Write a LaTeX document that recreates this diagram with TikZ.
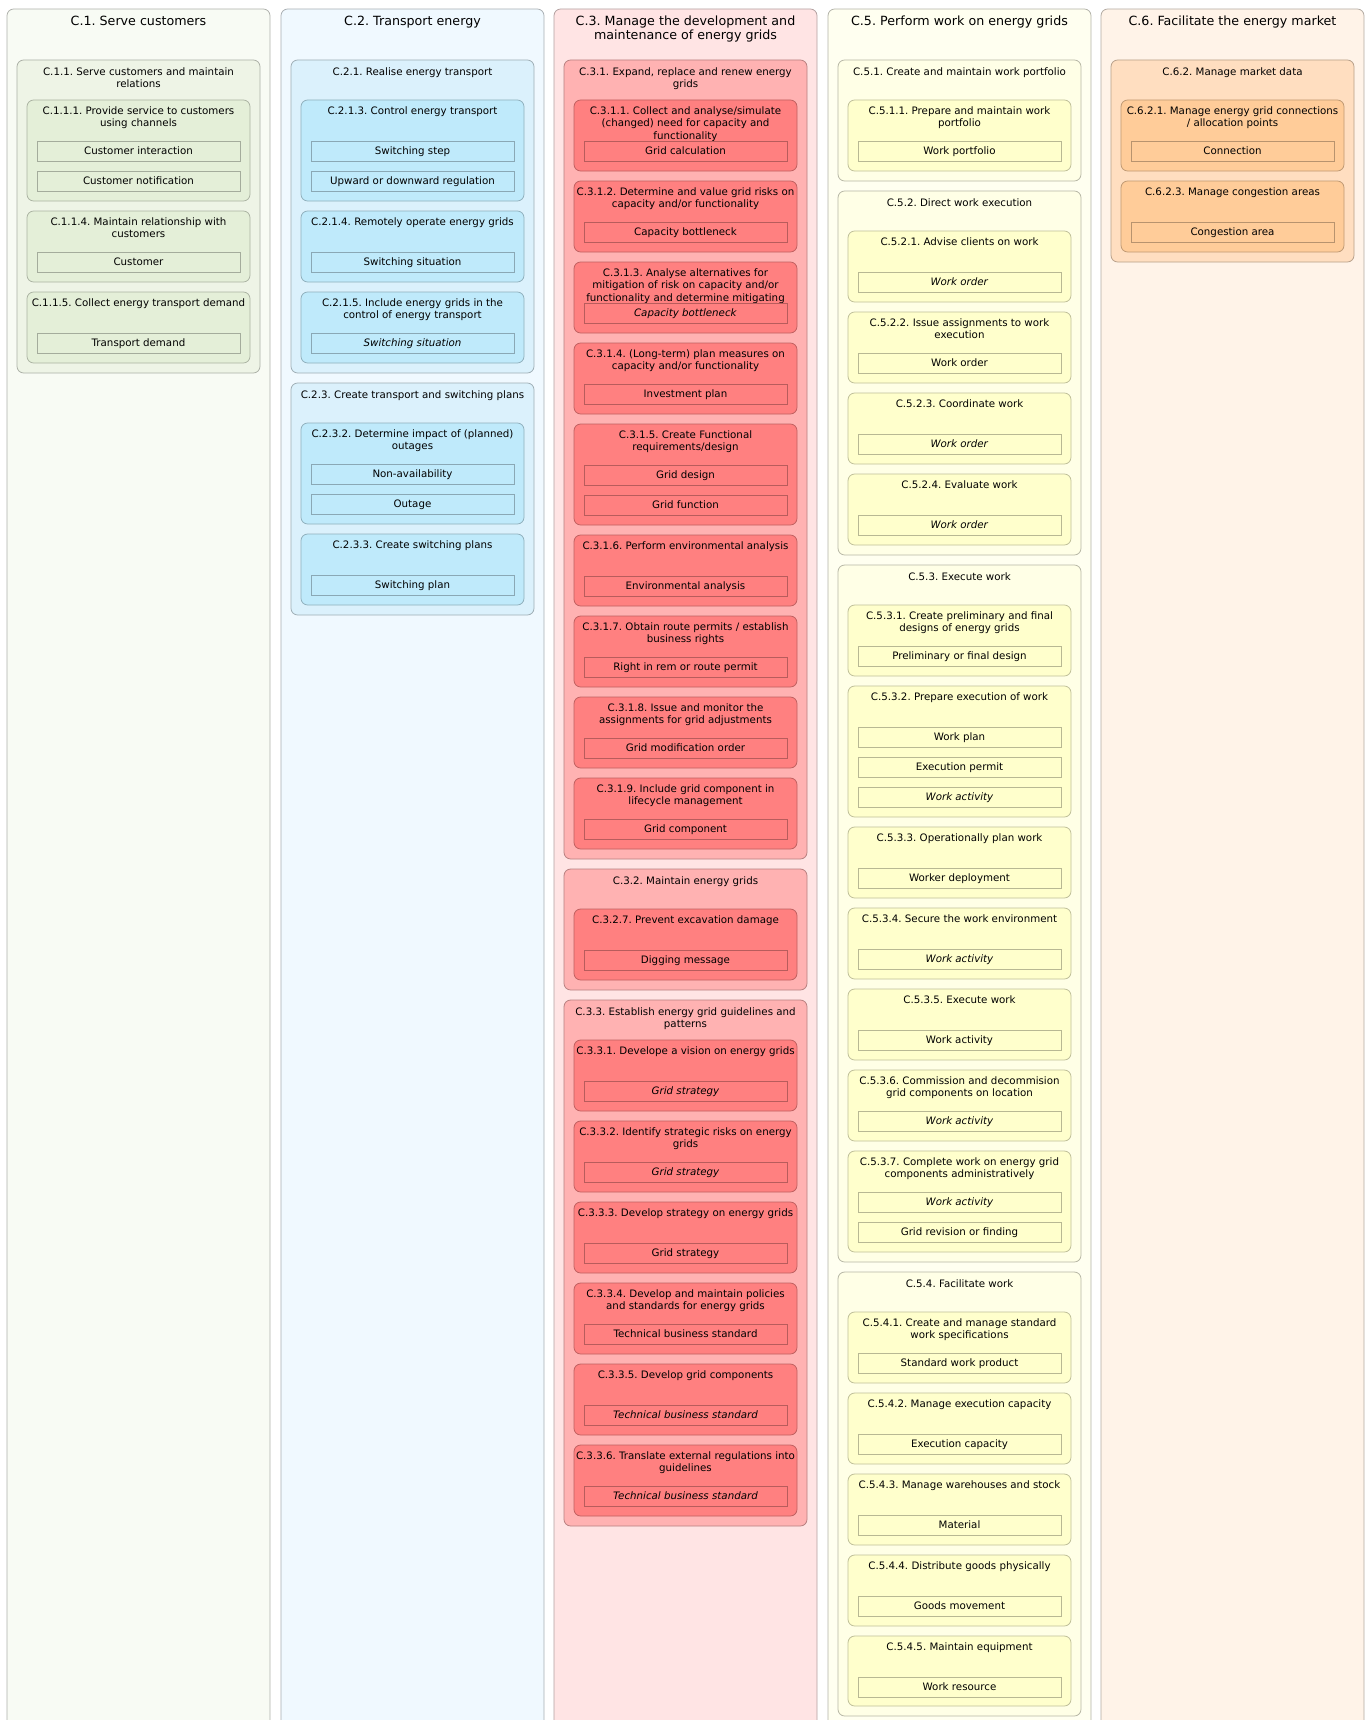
\documentclass[tikz,border=0pt]{standalone}
\usepackage{fontspec}
\setmainfont{DejaVu Sans}
\usepackage{tikz}
\frenchspacing
\definecolor{GreenCol}{RGB}{248,251,244}
\definecolor{GreenGrp}{RGB}{238,244,230}
\definecolor{GreenProc}{RGB}{228,239,216}
\definecolor{BlueCol}{RGB}{240,249,255}
\definecolor{BlueGrp}{RGB}{219,241,252}
\definecolor{BlueProc}{RGB}{191,234,251}
\definecolor{RedCol}{RGB}{255,228,228}
\definecolor{RedGrp}{RGB}{255,178,178}
\definecolor{RedProc}{RGB}{255,128,128}
\definecolor{YellowCol}{RGB}{255,255,240}
\definecolor{YellowGrp}{RGB}{255,255,230}
\definecolor{YellowProc}{RGB}{255,255,204}
\definecolor{OrangeCol}{RGB}{255,243,232}
\definecolor{OrangeGrp}{RGB}{255,222,192}
\definecolor{OrangeProc}{RGB}{255,204,153}
\begin{document}
\begin{tikzpicture}[x=0.75pt,y=-0.75pt,
  lane/.style={draw=#1!70!black,fill=#1,rounded corners=5pt,line width=0.6pt},
  grp/.style={draw=#1!72!black,fill=#1,rounded corners=5pt,line width=0.6pt},
  proc/.style={draw=#1!75!black,fill=#1,rounded corners=5pt,line width=0.6pt},
  obj/.style={draw=#1!72!black,fill=#1,line width=0.6pt,minimum width=152.25pt,
              minimum height=15pt,inner sep=0pt,text height=5.6pt,text depth=0.4pt,
              font=\fontsize{7.7}{9.5}\selectfont},
  lanettl/.style={anchor=north,align=center,inner sep=0pt,font=\fontsize{9.5}{10.7}\selectfont},
  ttl/.style={anchor=north,align=center,inner sep=0pt,font=\fontsize{7.7}{9.5}\selectfont},
]
\useasboundingbox (0,0) rectangle (1367,1720);
\clip (0,0) rectangle (1367,1720);
% C.1
\draw[lane=GreenCol] (7,9) rectangle (270,1740);
\node[lanettl] (tc1) at (138.5,15) {\strut C.1. Serve customers};
\draw[grp=GreenGrp] (17,60) rectangle (260,373);
\node[ttl] (tg11) at (138.5,66) {\strut C.1.1. Serve customers and maintain\\relations};
\draw[proc=GreenProc] (27,100) rectangle (250,201);
\node[ttl] (tp111) at (138.5,105) {\strut C.1.1.1. Provide service to customers\\using channels};
\node[obj=GreenProc] (o111a) at (138.5,151) {Customer interaction};
\node[obj=GreenProc] (o111b) at (138.5,181) {Customer notification};
\draw[proc=GreenProc] (27,211) rectangle (250,282);
\node[ttl] (tp114) at (138.5,216) {\strut C.1.1.4. Maintain relationship with\\customers};
\node[obj=GreenProc] (o114) at (138.5,262) {Customer};
\draw[proc=GreenProc] (27,292) rectangle (250,363);
\node[ttl] (tp115) at (138.5,297) {\strut C.1.1.5. Collect energy transport demand};
\node[obj=GreenProc] (o115) at (138.5,343) {Transport demand};
% C.2
\draw[lane=BlueCol] (281,9) rectangle (544,1740);
\node[lanettl] (tc2) at (412.5,15) {\strut C.2. Transport energy};
\draw[grp=BlueGrp] (291,60) rectangle (534,373);
\node[ttl] (tg21) at (412.5,66) {\strut C.2.1. Realise energy transport};
\draw[proc=BlueProc] (301,100) rectangle (524,201);
\node[ttl] (tp213) at (412.5,105) {\strut C.2.1.3. Control energy transport};
\node[obj=BlueProc] (o213a) at (412.5,151) {Switching step};
\node[obj=BlueProc] (o213b) at (412.5,181) {Upward or downward regulation};
\draw[proc=BlueProc] (301,211) rectangle (524,282);
\node[ttl] (tp214) at (412.5,216) {\strut C.2.1.4. Remotely operate energy grids};
\node[obj=BlueProc] (o214) at (412.5,262) {Switching situation};
\draw[proc=BlueProc] (301,292) rectangle (524,363);
\node[ttl] (tp215) at (412.5,297) {\strut C.2.1.5. Include energy grids in the\\control of energy transport};
\node[obj=BlueProc] (o215) at (412.5,343) {\textit{Switching situation}};
\draw[grp=BlueGrp] (291,383) rectangle (534,615);
\node[ttl] (tg23) at (412.5,389) {\strut C.2.3. Create transport and switching plans};
\draw[proc=BlueProc] (301,423) rectangle (524,524);
\node[ttl] (tp232) at (412.5,428) {\strut C.2.3.2. Determine impact of (planned)\\outages};
\node[obj=BlueProc] (o232a) at (412.5,474) {Non-availability};
\node[obj=BlueProc] (o232b) at (412.5,504) {Outage};
\draw[proc=BlueProc] (301,534) rectangle (524,605);
\node[ttl] (tp233) at (412.5,539) {\strut C.2.3.3. Create switching plans};
\node[obj=BlueProc] (o233) at (412.5,585) {Switching plan};
% C.3
\draw[lane=RedCol] (554,9) rectangle (817,1740);
\node[lanettl] (tc3) at (685.5,15) {\strut C.3. Manage the development and\\maintenance of energy grids};
\draw[grp=RedGrp] (564,60) rectangle (807,859);
\node[ttl] (tg31) at (685.5,66) {\strut C.3.1. Expand, replace and renew energy\\grids};
\draw[proc=RedProc] (574,100) rectangle (797,171);
\node[ttl] (tp311) at (685.5,105) {\strut C.3.1.1. Collect and analyse/simulate\\(changed) need for capacity and\\functionality};
\node[obj=RedProc] (o311) at (685.5,151) {Grid calculation};
\draw[proc=RedProc] (574,181) rectangle (797,252);
\node[ttl] (tp312) at (685.5,186) {\strut C.3.1.2. Determine and value grid risks on\\capacity and/or functionality};
\node[obj=RedProc] (o312) at (685.5,232) {Capacity bottleneck};
\draw[proc=RedProc] (574,262) rectangle (797,333);
\node[ttl] (tp313) at (685.5,267) {\strut C.3.1.3. Analyse alternatives for\\mitigation of risk on capacity and/or\\functionality and determine mitigating};
\node[obj=RedProc] (o313) at (685.5,313) {\textit{Capacity bottleneck}};
\draw[proc=RedProc] (574,343) rectangle (797,414);
\node[ttl] (tp314) at (685.5,348) {\strut C.3.1.4. (Long-term) plan measures on\\capacity and/or functionality};
\node[obj=RedProc] (o314) at (685.5,394) {Investment plan};
\draw[proc=RedProc] (574,424) rectangle (797,525);
\node[ttl] (tp315) at (685.5,429) {\strut C.3.1.5. Create Functional\\requirements/design};
\node[obj=RedProc] (o315a) at (685.5,475) {Grid design};
\node[obj=RedProc] (o315b) at (685.5,505) {Grid function};
\draw[proc=RedProc] (574,535) rectangle (797,606);
\node[ttl] (tp316) at (685.5,540) {\strut C.3.1.6. Perform environmental analysis};
\node[obj=RedProc] (o316) at (685.5,586) {Environmental analysis};
\draw[proc=RedProc] (574,616) rectangle (797,687);
\node[ttl] (tp317) at (685.5,621) {\strut C.3.1.7. Obtain route permits / establish\\business rights};
\node[obj=RedProc] (o317) at (685.5,667) {Right in rem or route permit};
\draw[proc=RedProc] (574,697) rectangle (797,768);
\node[ttl] (tp318) at (685.5,702) {\strut C.3.1.8. Issue and monitor the\\assignments for grid adjustments};
\node[obj=RedProc] (o318) at (685.5,748) {Grid modification order};
\draw[proc=RedProc] (574,778) rectangle (797,849);
\node[ttl] (tp319) at (685.5,783) {\strut C.3.1.9. Include grid component in\\lifecycle management};
\node[obj=RedProc] (o319) at (685.5,829) {Grid component};
\draw[grp=RedGrp] (564,869) rectangle (807,990);
\node[ttl] (tg32) at (685.5,875) {\strut C.3.2. Maintain energy grids};
\draw[proc=RedProc] (574,909) rectangle (797,980);
\node[ttl] (tp327) at (685.5,914) {\strut C.3.2.7. Prevent excavation damage};
\node[obj=RedProc] (o327) at (685.5,960) {Digging message};
\draw[grp=RedGrp] (564,1000) rectangle (807,1526);
\node[ttl] (tg33) at (685.5,1006) {\strut C.3.3. Establish energy grid guidelines and\\patterns};
\draw[proc=RedProc] (574,1040) rectangle (797,1111);
\node[ttl] (tp331) at (685.5,1045) {\strut C.3.3.1. Develope a vision on energy grids};
\node[obj=RedProc] (o331) at (685.5,1091) {\textit{Grid strategy}};
\draw[proc=RedProc] (574,1121) rectangle (797,1192);
\node[ttl] (tp332) at (685.5,1126) {\strut C.3.3.2. Identify strategic risks on energy\\grids};
\node[obj=RedProc] (o332) at (685.5,1172) {\textit{Grid strategy}};
\draw[proc=RedProc] (574,1202) rectangle (797,1273);
\node[ttl] (tp333) at (685.5,1207) {\strut C.3.3.3. Develop strategy on energy grids};
\node[obj=RedProc] (o333) at (685.5,1253) {Grid strategy};
\draw[proc=RedProc] (574,1283) rectangle (797,1354);
\node[ttl] (tp334) at (685.5,1288) {\strut C.3.3.4. Develop and maintain policies\\and standards for energy grids};
\node[obj=RedProc] (o334) at (685.5,1334) {Technical business standard};
\draw[proc=RedProc] (574,1364) rectangle (797,1435);
\node[ttl] (tp335) at (685.5,1369) {\strut C.3.3.5. Develop grid components};
\node[obj=RedProc] (o335) at (685.5,1415) {\textit{Technical business standard}};
\draw[proc=RedProc] (574,1445) rectangle (797,1516);
\node[ttl] (tp336) at (685.5,1450) {\strut C.3.3.6. Translate external regulations into\\guidelines};
\node[obj=RedProc] (o336) at (685.5,1496) {\textit{Technical business standard}};
% C.5
\draw[lane=YellowCol] (828,9) rectangle (1091,1740);
\node[lanettl] (tc5) at (959.5,15) {\strut C.5. Perform work on energy grids};
\draw[grp=YellowGrp] (838,60) rectangle (1081,181);
\node[ttl] (tg51) at (959.5,66) {\strut C.5.1. Create and maintain work portfolio};
\draw[proc=YellowProc] (848,100) rectangle (1071,171);
\node[ttl] (tp511) at (959.5,105) {\strut C.5.1.1. Prepare and maintain work\\portfolio};
\node[obj=YellowProc] (o511) at (959.5,151) {Work portfolio};
\draw[grp=YellowGrp] (838,191) rectangle (1081,555);
\node[ttl] (tg52) at (959.5,197) {\strut C.5.2. Direct work execution};
\draw[proc=YellowProc] (848,231) rectangle (1071,302);
\node[ttl] (tp521) at (959.5,236) {\strut C.5.2.1. Advise clients on work};
\node[obj=YellowProc] (o521) at (959.5,282) {\textit{Work order}};
\draw[proc=YellowProc] (848,312) rectangle (1071,383);
\node[ttl] (tp522) at (959.5,317) {\strut C.5.2.2. Issue assignments to work\\execution};
\node[obj=YellowProc] (o522) at (959.5,363) {Work order};
\draw[proc=YellowProc] (848,393) rectangle (1071,464);
\node[ttl] (tp523) at (959.5,398) {\strut C.5.2.3. Coordinate work};
\node[obj=YellowProc] (o523) at (959.5,444) {\textit{Work order}};
\draw[proc=YellowProc] (848,474) rectangle (1071,545);
\node[ttl] (tp524) at (959.5,479) {\strut C.5.2.4. Evaluate work};
\node[obj=YellowProc] (o524) at (959.5,525) {\textit{Work order}};
\draw[grp=YellowGrp] (838,565) rectangle (1081,1262);
\node[ttl] (tg53) at (959.5,571) {\strut C.5.3. Execute work};
\draw[proc=YellowProc] (848,605) rectangle (1071,676);
\node[ttl] (tp531) at (959.5,610) {\strut C.5.3.1. Create preliminary and final\\designs of energy grids};
\node[obj=YellowProc] (o531) at (959.5,656) {Preliminary or final design};
\draw[proc=YellowProc] (848,686) rectangle (1071,817);
\node[ttl] (tp532) at (959.5,691) {\strut C.5.3.2. Prepare execution of work};
\node[obj=YellowProc] (o532a) at (959.5,737) {Work plan};
\node[obj=YellowProc] (o532b) at (959.5,767) {Execution permit};
\node[obj=YellowProc] (o532c) at (959.5,797) {\textit{Work activity}};
\draw[proc=YellowProc] (848,827) rectangle (1071,898);
\node[ttl] (tp533) at (959.5,832) {\strut C.5.3.3. Operationally plan work};
\node[obj=YellowProc] (o533) at (959.5,878) {Worker deployment};
\draw[proc=YellowProc] (848,908) rectangle (1071,979);
\node[ttl] (tp534) at (959.5,913) {\strut C.5.3.4. Secure the work environment};
\node[obj=YellowProc] (o534) at (959.5,959) {\textit{Work activity}};
\draw[proc=YellowProc] (848,989) rectangle (1071,1060);
\node[ttl] (tp535) at (959.5,994) {\strut C.5.3.5. Execute work};
\node[obj=YellowProc] (o535) at (959.5,1040) {Work activity};
\draw[proc=YellowProc] (848,1070) rectangle (1071,1141);
\node[ttl] (tp536) at (959.5,1075) {\strut C.5.3.6. Commission and decommision\\grid components on location};
\node[obj=YellowProc] (o536) at (959.5,1121) {\textit{Work activity}};
\draw[proc=YellowProc] (848,1151) rectangle (1071,1252);
\node[ttl] (tp537) at (959.5,1156) {\strut C.5.3.7. Complete work on energy grid\\components administratively};
\node[obj=YellowProc] (o537a) at (959.5,1202) {\textit{Work activity}};
\node[obj=YellowProc] (o537b) at (959.5,1232) {Grid revision or finding};
\draw[grp=YellowGrp] (838,1272) rectangle (1081,1716);
\node[ttl] (tg54) at (959.5,1278) {\strut C.5.4. Facilitate work};
\draw[proc=YellowProc] (848,1312) rectangle (1071,1383);
\node[ttl] (tp541) at (959.5,1317) {\strut C.5.4.1. Create and manage standard\\work specifications};
\node[obj=YellowProc] (o541) at (959.5,1363) {Standard work product};
\draw[proc=YellowProc] (848,1393) rectangle (1071,1464);
\node[ttl] (tp542) at (959.5,1398) {\strut C.5.4.2. Manage execution capacity};
\node[obj=YellowProc] (o542) at (959.5,1444) {Execution capacity};
\draw[proc=YellowProc] (848,1474) rectangle (1071,1545);
\node[ttl] (tp543) at (959.5,1479) {\strut C.5.4.3. Manage warehouses and stock};
\node[obj=YellowProc] (o543) at (959.5,1525) {Material};
\draw[proc=YellowProc] (848,1555) rectangle (1071,1626);
\node[ttl] (tp544) at (959.5,1560) {\strut C.5.4.4. Distribute goods physically};
\node[obj=YellowProc] (o544) at (959.5,1606) {Goods movement};
\draw[proc=YellowProc] (848,1636) rectangle (1071,1706);
\node[ttl] (tp545) at (959.5,1641) {\strut C.5.4.5. Maintain equipment};
\node[obj=YellowProc] (o545) at (959.5,1687) {Work resource};
% C.6
\draw[lane=OrangeCol] (1101,9) rectangle (1364,1740);
\node[lanettl] (tc6) at (1232.5,15) {\strut C.6. Facilitate the energy market};
\draw[grp=OrangeGrp] (1111,60) rectangle (1354,262);
\node[ttl] (tg62) at (1232.5,66) {\strut C.6.2. Manage market data};
\draw[proc=OrangeProc] (1121,100) rectangle (1344,171);
\node[ttl] (tp621) at (1232.5,105) {\strut C.6.2.1. Manage energy grid connections\\/ allocation points};
\node[obj=OrangeProc] (o621) at (1232.5,151) {Connection};
\draw[proc=OrangeProc] (1121,181) rectangle (1344,252);
\node[ttl] (tp623) at (1232.5,186) {\strut C.6.2.3. Manage congestion areas};
\node[obj=OrangeProc] (o623) at (1232.5,232) {Congestion area};
\end{tikzpicture}
\end{document}
